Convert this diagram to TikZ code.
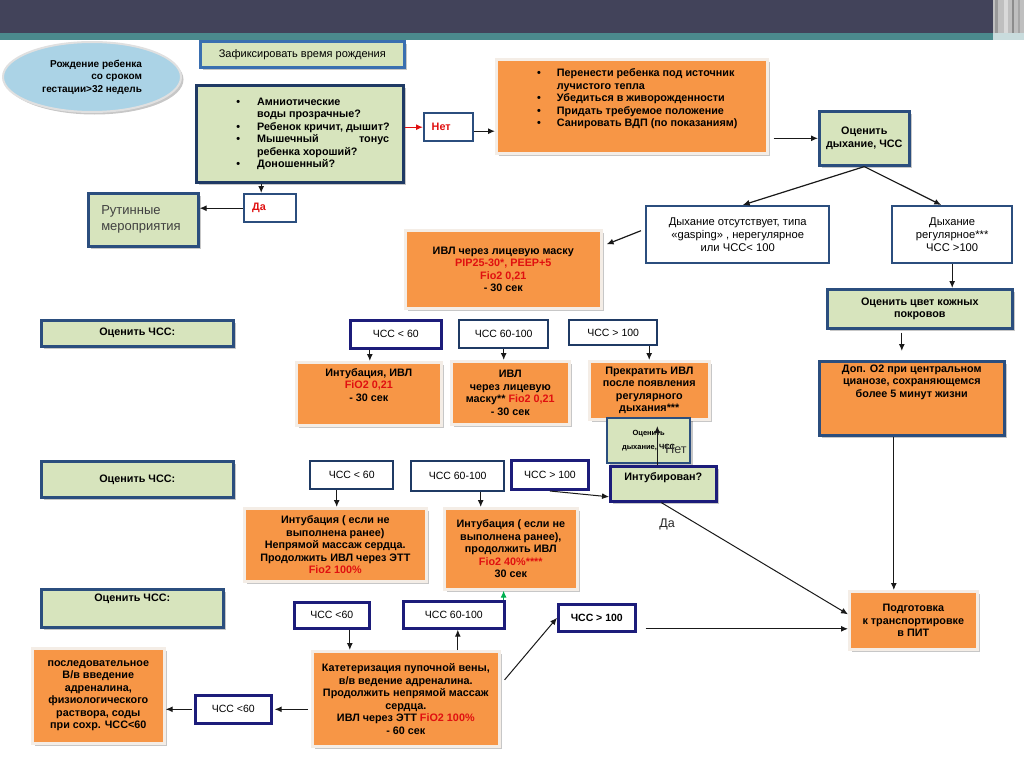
\documentclass[tikz,border=0pt]{standalone}
\usepackage{fontspec}
\setmainfont{Liberation Sans}
\usetikzlibrary{arrows.meta,shadows,calc,shapes.geometric}
\definecolor{banner}{HTML}{42435A}
\definecolor{teal}{HTML}{4B8A8D}
\definecolor{gfill}{HTML}{D7E4BD}
\definecolor{ofill}{HTML}{F79646}
\definecolor{oline}{HTML}{F4EDE6}
\definecolor{ellb}{HTML}{ABD3E6}
\definecolor{bordA}{HTML}{3A6FB0}
\definecolor{bordB}{HTML}{2B4E7E}
\definecolor{bordC}{HTML}{1F3A64}
\definecolor{navy}{HTML}{1C1C7A}
\definecolor{redt}{HTML}{E01010}
\definecolor{greyt}{HTML}{404040}
\definecolor{garrow}{HTML}{00B050}
\newcommand\fsz{\fontsize{10.8}{12.5}\selectfont}
\newcommand\fsc{\fontsize{10.5}{12.5}\selectfont}
\newcommand\rd[1]{\textcolor{redt}{#1}}
\newcommand\mybox[7]{\node[#1,minimum width={#5-#3},minimum height={#6-#4}] (#2) at (#3,#4) {#7};}
\tikzset{
  bx/.style={inner sep=0pt, anchor=north west, align=center, font=\fsz\bfseries},
  shd/.style={drop shadow={shadow xshift=2.5pt,shadow yshift=-2.5pt,fill=black,opacity=0.22}},
  gbox/.style={bx, fill=gfill, draw=bordB, line width=2.6pt, shd},
  obox/.style={bx, fill=ofill, draw=oline, line width=2.6pt, shd},
  wbox/.style={bx, fill=white, draw=bordB, line width=2.4pt, font=\fsc},
  nbox/.style={bx, fill=white, draw=navy, line width=2.6pt, font=\fsc},
  arr/.style={-{Latex[length=7pt,width=6pt]}, line width=1.2pt, draw=black!90},
}
\begin{document}
\begin{tikzpicture}[x=1pt,y=-1pt]
\useasboundingbox (0,0) rectangle (1024,768);
% banner
\fill[banner] (0,0) rectangle (1024,34);
\fill[teal] (0,33) rectangle (1024,40);
\fill[black!25] (993,0) rectangle (1024,40);
\fill[black!40] (995,0) rectangle (998,40);
\fill[black!15] (1004,0) rectangle (1008,40);
\fill[black!45] (1012,0) rectangle (1014,40);
\fill[black!35] (1018,0) rectangle (1020,40);
\fill[white!70!teal] (993,33) rectangle (1024,40);

% top
\node[ellipse, minimum width=178, minimum height=70, fill=ellb, draw=white!88!black, line width=2pt, shd, inner sep=0pt, align=right, font=\fontsize{10}{12.5}\selectfont\bfseries] (birth) at (92,77) {Рождение ребенка\\со сроком\\гестации>32 недель};
\mybox{gbox, draw=bordA, font=\fontsize{11}{12.5}\selectfont}{zafix}{199}{40}{403}{66}{Зафиксировать время рождения}
\mybox{gbox, draw=bordC, line width=3pt}{quest}{195}{84}{402}{181}{\begin{tabular}{@{\hspace{26pt}}l@{\hspace{17pt}}l@{}}
•& Амниотические\\
 & воды прозрачные?\\
•& Ребенок кричит, дышит?\\
•& \makebox[132pt][s]{Мышечный\hfill тонус}\\
 & ребенка хороший?\\
•& Доношенный?
\end{tabular}}
\mybox{wbox, text width=36pt, align=left, font=\fsz\bfseries\color{redt}}{da}{243}{193}{295}{221}{Да}
\mybox{gbox, text width=84pt, align=left, font=\fontsize{13}{16}\selectfont\color{greyt}}{rut}{87}{192}{197}{245}{Рутинные\\мероприятия}
\mybox{wbox, text width=34pt, align=left, font=\fsz\bfseries\color{redt}}{net}{423}{112}{472}{140}{Нет}
\mybox{obox}{o1}{495}{58}{766}{152}{\begin{tabular}{@{\hspace{11pt}}l@{\hspace{16pt}}l@{}}
•& Перенести ребенка под источник\\
 & лучистого тепла\\
•& Убедиться в живорожденности\\
•& Придать требуемое положение\\
•& Санировать ВДП (по показаниям)\\[14pt]
\end{tabular}}
\mybox{gbox}{ocdyh}{818}{110}{908}{164}{Оценить\\дыхание, ЧСС}
\mybox{wbox, font=\fontsize{11.2}{12.8}\selectfont}{dots}{645}{205}{828}{262}{Дыхание отсутствует, типа\\«gasping» , нерегулярное\\или ЧСС< 100}
\mybox{wbox, font=\fontsize{11.2}{12.8}\selectfont}{dreg}{891}{205}{1011}{262}{Дыхание\\регулярное***\\ЧСС >100}
\mybox{obox}{ivl}{404}{229}{600}{307}{ИВЛ через лицевую маску\\\rd{PIP25-30*, PEEP+5}\\\rd{Fio2 0,21}\\- 30 сек}
\mybox{gbox}{occvet}{826}{288}{1011}{327}{Оценить цвет кожных\\покровов}
\mybox{obox, draw=bordB}{dop}{818}{360}{1003}{434}{Доп. О2  при центральном\\цианозе,  сохраняющемся\\более 5 минут жизни\\[22pt]}
\mybox{obox}{podg}{848}{590}{976}{648}{Подготовка\\к транспортировке\\в ПИТ}

% row 1
\mybox{gbox}{occ1}{40}{319}{232}{345}{Оценить ЧСС:}
\mybox{nbox}{c1a}{349}{319}{440}{347}{ЧСС < 60}
\mybox{wbox, draw=bordC}{c1b}{458}{319}{547}{347}{ЧСС  60-100}
\mybox{wbox, draw=bordC}{c1c}{568}{319}{656}{344}{ЧСС > 100}
\mybox{obox}{o1a}{295}{361}{440}{424}{Интубация, ИВЛ\\\rd{FiO2 0,21}\\- 30 сек\\[6pt]}
\mybox{obox}{o1b}{450}{360}{568}{423}{ИВЛ\\через лицевую\\маску** \rd{Fio2 0,21}\\- 30 сек}
\mybox{obox}{o1c}{588}{360}{708}{418}{Прекратить ИВЛ\\после появления\\регулярного\\дыхания***}
\mybox{gbox, line width=2.2pt, font=\fontsize{7.5}{14}\selectfont\bfseries}{small}{606}{417}{689}{462}{Оценить\\дыхание, ЧСС}
\mybox{gbox, draw=navy}{intub}{609}{465}{715}{500}{Интубирован?\\[3pt]}
\coordinate (nettip) at ([yshift=-9pt]small.north);
\draw[arr] ([xshift=-6pt]intub.north) -- ([xshift=-6pt]intub.north |- nettip);
\node[font=\fontsize{12.5}{14}\selectfont, text=black!80, inner sep=0pt] (netlbl) at (676,449) {Нет};

% row 2
\mybox{gbox}{occ2}{40}{460}{232}{496}{Оценить ЧСС:}
\mybox{wbox, draw=bordC}{c2a}{309}{460}{392}{488}{ЧСС < 60}
\mybox{wbox, draw=bordC}{c2b}{410}{460}{503}{490}{ЧСС  60-100}
\mybox{nbox, line width=3pt}{c2c}{510}{459}{587}{488}{ЧСС > 100}
\mybox{obox}{o2a}{243}{507}{425}{580}{Интубация ( если не\\выполнена ранее)\\Непрямой массаж сердца.\\Продолжить ИВЛ  через ЭТТ\\\rd{Fio2 100\%}}
\mybox{obox}{o2b}{443}{507}{576}{588}{Интубация ( если не\\выполнена ранее),\\продолжить ИВЛ\\\rd{Fio2 40\%****}\\30 сек}
\node[font=\fontsize{12.5}{14}\selectfont, text=black!85, inner sep=0pt] (dalbl) at (667,524) {Да};

% row 3
\mybox{gbox}{occ3}{40}{588}{222}{626}{Оценить ЧСС:\\[8pt]}
\mybox{nbox}{c3a}{293}{601}{368}{627}{ЧСС <60}
\mybox{nbox}{c3b}{402}{600}{503}{627}{ЧСС 60-100}
\mybox{nbox, font=\fsc\bfseries}{c3c}{557}{603}{634}{630}{ЧСС > 100}
\mybox{obox}{kat}{311}{650}{498}{745}{Катетеризация пупочной вены,\\в/в ведение адреналина.\\Продолжить непрямой массаж\\сердца.\\ИВЛ  через ЭТТ \rd{FiO2 100\%}\\- 60 сек}
\mybox{nbox}{c3d}{194}{694}{270}{722}{ЧСС <60}
\mybox{obox}{posl}{31}{647}{163}{742}{последовательное\\В/в введение\\адреналина,\\физиологического\\раствора, соды\\при сохр. ЧСС<60}

% connectors top
\draw[arr] ([xshift=-9pt]da.north |- quest.south) -- ([xshift=-9pt]da.north);
\draw[arr] (da.west) -- (da.west -| rut.east);
\draw[arr, draw=redt] (net.west -| quest.east) -- (net.west);
\draw[arr] ([yshift=-4pt]net.east) -- ([yshift=-4pt]net.east -| o1.west);
\draw[arr] ([xshift=5pt]o1.east |- ocdyh.west) -- (ocdyh.west);
\draw[arr] (ocdyh.south) -- ([xshift=5pt]dots.north);
\draw[arr] (ocdyh.south) -- ([xshift=-11pt]dreg.north);
\draw[arr] ([xshift=-4pt,yshift=4pt]dots.west) -- ([xshift=4pt,yshift=25pt]ivl.east);
\draw[arr] (dreg.south) -- (dreg.south |- occvet.north);
\draw[arr, shorten <=3pt, shorten >=9pt] ([xshift=-18pt]occvet.south) -- ([xshift=-18pt]occvet.south |- dop.north);
\draw[arr, line width=1pt] ([xshift=-18pt]dop.south) -- ([xshift=-18pt]dop.south |- podg.north);
% row 1
\draw[arr] ([xshift=-26pt]c1a.south) -- ([xshift=-26pt]c1a.south |- o1a.north);
\draw[arr] (c1b.south) -- (c1b.south |- o1b.north);
\draw[arr] ([xshift=36pt]c1c.south) -- ([xshift=36pt]c1c.south |- o1c.north);
% row 2
\draw[arr] ([xshift=-15pt]c2a.south) -- ([xshift=-15pt]c2a.south |- o2a.north);
\draw[arr] ([xshift=23pt]c2b.south) -- ([xshift=23pt]c2b.south |- o2b.north);
\draw[arr, line width=1pt] (c2c.south) -- ([yshift=-13pt]intub.west);
\draw[arr, line width=1pt] ([xshift=-2pt]intub.south) -- ([yshift=6pt]podg.west);
% row 3
\draw[arr, draw=garrow] ([xshift=-2pt]c3b.north east) -- ([xshift=-2pt]c3b.north east |- o2b.south);
\draw[arr] ([xshift=18pt]c3a.south) -- ([xshift=18pt]c3a.south |- kat.north);
\draw[arr] ([xshift=4pt]c3b.south |- kat.north) -- ([xshift=4pt]c3b.south);
\draw[arr, line width=1pt] ([xshift=4pt,yshift=19pt]kat.east) -- (c3c.west);
\draw[arr, line width=1pt] ([xshift=9pt,yshift=-11pt]c3c.east) -- ([yshift=-11pt]c3c.east -| podg.west);
\draw[arr] ([xshift=-3pt]kat.west |- c3d.east) -- ([xshift=2pt]c3d.east);
\draw[arr] ([xshift=-2pt]c3d.west) -- (c3d.west -| posl.east);
\end{tikzpicture}
\end{document}
